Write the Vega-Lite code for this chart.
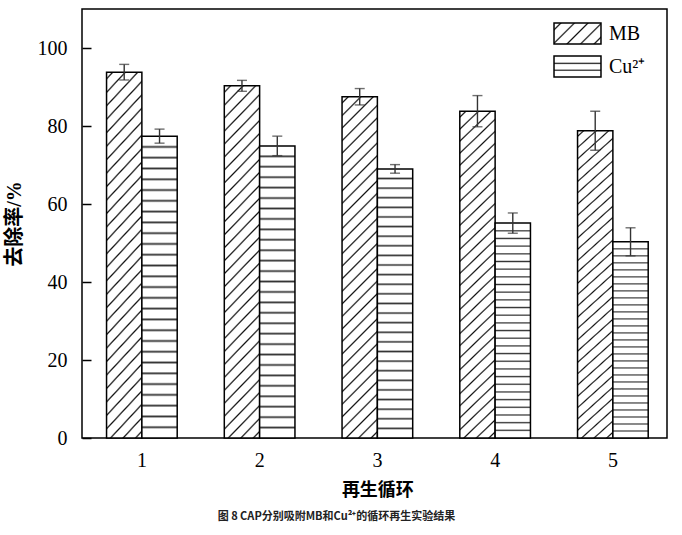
{
  "$schema": "https://vega.github.io/schema/vega-lite/v6.json",
  "width": 585,
  "height": 429,
  "autosize": "none",
  "padding": {"left": 82, "top": 9, "right": 15, "bottom": 97},
  "background": "white",
  "config": {
    "view": {"stroke": "black", "strokeWidth": 1.5},
    "font": "Liberation Serif"
  },
  "title": {
    "text": "图 8 CAP分别吸附MB和Cu²⁺的循环再生实验结果",
    "orient": "bottom",
    "anchor": "middle",
    "dx": -38,
    "offset": 12,
    "font": "Noto Sans CJK SC",
    "fontSize": 11,
    "fontWeight": "bold",
    "color": "#222"
  },
  "data": {
    "values": [
      {"cycle": 1, "series": "MB", "value": 93.8, "err": 2.0},
      {"cycle": 1, "series": "Cu²⁺", "value": 77.4, "err": 1.8},
      {"cycle": 2, "series": "MB", "value": 90.3, "err": 1.4},
      {"cycle": 2, "series": "Cu²⁺", "value": 74.9, "err": 2.5},
      {"cycle": 3, "series": "MB", "value": 87.5, "err": 2.1},
      {"cycle": 3, "series": "Cu²⁺", "value": 69.0, "err": 1.1},
      {"cycle": 4, "series": "MB", "value": 83.8, "err": 4.0},
      {"cycle": 4, "series": "Cu²⁺", "value": 55.1, "err": 2.6},
      {"cycle": 5, "series": "MB", "value": 78.8, "err": 5.0},
      {"cycle": 5, "series": "Cu²⁺", "value": 50.3, "err": 3.6}
    ]
  },
  "transform": [
    {"calculate": "datum.value - datum.err", "as": "lo"},
    {"calculate": "datum.value + datum.err", "as": "hi"}
  ],
  "encoding": {
    "x": {
      "field": "cycle",
      "type": "ordinal",
      "title": "再生循环",
      "scale": {"range": [1, 589.75], "paddingInner": 0.4, "paddingOuter": 0.2},
      "axis": {
        "domain": false,
        "ticks": false,
        "labelAngle": 0,
        "labelFont": "Liberation Serif",
        "labelFontSize": 20,
        "labelColor": "black",
        "labelPadding": 12,
        "titleFont": "Liberation Serif, Noto Sans CJK SC",
        "titleFontSize": 18,
        "titleFontWeight": "bold",
        "titleColor": "black",
        "titlePadding": 11
      }
    },
    "xOffset": {
      "field": "series",
      "type": "nominal",
      "sort": ["MB", "Cu²⁺"],
      "scale": {"paddingInner": 0, "paddingOuter": 0}
    }
  },
  "layer": [
    {
      "transform": [{"filter": "datum.series === 'MB'"}],
      "mark": {
        "type": "bar",
        "stroke": "black",
        "strokeWidth": 1.5,
        "fill": {
          "gradient": "linear", "x1": 0, "y1": 0, "x2": 0.1134, "y2": 1.092,
          "stops": [
            {"offset": 0.0122, "color": "#fff"}, {"offset": 0.0167, "color": "#111"}, {"offset": 0.0212, "color": "#fff"},
            {"offset": 0.0455, "color": "#fff"}, {"offset": 0.05, "color": "#111"}, {"offset": 0.0545, "color": "#fff"},
            {"offset": 0.0788, "color": "#fff"}, {"offset": 0.0833, "color": "#111"}, {"offset": 0.0878, "color": "#fff"},
            {"offset": 0.1122, "color": "#fff"}, {"offset": 0.1167, "color": "#111"}, {"offset": 0.1212, "color": "#fff"},
            {"offset": 0.1455, "color": "#fff"}, {"offset": 0.15, "color": "#111"}, {"offset": 0.1545, "color": "#fff"},
            {"offset": 0.1788, "color": "#fff"}, {"offset": 0.1833, "color": "#111"}, {"offset": 0.1878, "color": "#fff"},
            {"offset": 0.2122, "color": "#fff"}, {"offset": 0.2167, "color": "#111"}, {"offset": 0.2212, "color": "#fff"},
            {"offset": 0.2455, "color": "#fff"}, {"offset": 0.25, "color": "#111"}, {"offset": 0.2545, "color": "#fff"},
            {"offset": 0.2788, "color": "#fff"}, {"offset": 0.2833, "color": "#111"}, {"offset": 0.2878, "color": "#fff"},
            {"offset": 0.3122, "color": "#fff"}, {"offset": 0.3167, "color": "#111"}, {"offset": 0.3212, "color": "#fff"},
            {"offset": 0.3455, "color": "#fff"}, {"offset": 0.35, "color": "#111"}, {"offset": 0.3545, "color": "#fff"},
            {"offset": 0.3788, "color": "#fff"}, {"offset": 0.3833, "color": "#111"}, {"offset": 0.3878, "color": "#fff"},
            {"offset": 0.4122, "color": "#fff"}, {"offset": 0.4167, "color": "#111"}, {"offset": 0.4212, "color": "#fff"},
            {"offset": 0.4455, "color": "#fff"}, {"offset": 0.45, "color": "#111"}, {"offset": 0.4545, "color": "#fff"},
            {"offset": 0.4788, "color": "#fff"}, {"offset": 0.4833, "color": "#111"}, {"offset": 0.4878, "color": "#fff"},
            {"offset": 0.5122, "color": "#fff"}, {"offset": 0.5167, "color": "#111"}, {"offset": 0.5212, "color": "#fff"},
            {"offset": 0.5455, "color": "#fff"}, {"offset": 0.55, "color": "#111"}, {"offset": 0.5545, "color": "#fff"},
            {"offset": 0.5788, "color": "#fff"}, {"offset": 0.5833, "color": "#111"}, {"offset": 0.5878, "color": "#fff"},
            {"offset": 0.6122, "color": "#fff"}, {"offset": 0.6167, "color": "#111"}, {"offset": 0.6212, "color": "#fff"},
            {"offset": 0.6455, "color": "#fff"}, {"offset": 0.65, "color": "#111"}, {"offset": 0.6545, "color": "#fff"},
            {"offset": 0.6788, "color": "#fff"}, {"offset": 0.6833, "color": "#111"}, {"offset": 0.6878, "color": "#fff"},
            {"offset": 0.7122, "color": "#fff"}, {"offset": 0.7167, "color": "#111"}, {"offset": 0.7212, "color": "#fff"},
            {"offset": 0.7455, "color": "#fff"}, {"offset": 0.75, "color": "#111"}, {"offset": 0.7545, "color": "#fff"},
            {"offset": 0.7788, "color": "#fff"}, {"offset": 0.7833, "color": "#111"}, {"offset": 0.7878, "color": "#fff"},
            {"offset": 0.8122, "color": "#fff"}, {"offset": 0.8167, "color": "#111"}, {"offset": 0.8212, "color": "#fff"},
            {"offset": 0.8455, "color": "#fff"}, {"offset": 0.85, "color": "#111"}, {"offset": 0.8545, "color": "#fff"},
            {"offset": 0.8788, "color": "#fff"}, {"offset": 0.8833, "color": "#111"}, {"offset": 0.8878, "color": "#fff"},
            {"offset": 0.9122, "color": "#fff"}, {"offset": 0.9167, "color": "#111"}, {"offset": 0.9212, "color": "#fff"},
            {"offset": 0.9455, "color": "#fff"}, {"offset": 0.95, "color": "#111"}, {"offset": 0.9545, "color": "#fff"},
            {"offset": 0.9788, "color": "#fff"}, {"offset": 0.9833, "color": "#111"}, {"offset": 0.9878, "color": "#fff"}
          ]
        }
      },
      "encoding": {
        "y": {
          "field": "value",
          "type": "quantitative",
          "title": "去除率/%",
          "scale": {"domain": [0, 110], "nice": false},
          "axis": {
            "values": [0, 20, 40, 60, 80, 100],
            "domain": false,
            "grid": false,
            "tickSize": -9,
            "tickColor": "black",
            "tickWidth": 1.5,
            "labelFont": "Liberation Serif",
            "labelFontSize": 20,
            "labelColor": "black",
            "labelPadding": 24,
            "titleFont": "Liberation Serif, Noto Sans CJK SC",
            "titleFontSize": 20,
            "titleFontWeight": "bold",
            "titleColor": "black",
            "titlePadding": 13
          }
        }
      }
    },
    {
      "transform": [{"filter": "datum.series !== 'MB'"}],
      "mark": {
        "type": "bar",
        "stroke": "black",
        "strokeWidth": 1.5,
        "fill": {
          "gradient": "linear", "x1": 0, "y1": 0, "x2": 0, "y2": 1,
          "stops": [
            {"offset": 0.0297, "color": "#fff"}, {"offset": 0.0357, "color": "#333"}, {"offset": 0.0417, "color": "#fff"},
            {"offset": 0.0654, "color": "#fff"}, {"offset": 0.0714, "color": "#333"}, {"offset": 0.0774, "color": "#fff"},
            {"offset": 0.1011, "color": "#fff"}, {"offset": 0.1071, "color": "#333"}, {"offset": 0.1131, "color": "#fff"},
            {"offset": 0.1369, "color": "#fff"}, {"offset": 0.1429, "color": "#333"}, {"offset": 0.1489, "color": "#fff"},
            {"offset": 0.1726, "color": "#fff"}, {"offset": 0.1786, "color": "#333"}, {"offset": 0.1846, "color": "#fff"},
            {"offset": 0.2083, "color": "#fff"}, {"offset": 0.2143, "color": "#333"}, {"offset": 0.2203, "color": "#fff"},
            {"offset": 0.244, "color": "#fff"}, {"offset": 0.25, "color": "#333"}, {"offset": 0.256, "color": "#fff"},
            {"offset": 0.2797, "color": "#fff"}, {"offset": 0.2857, "color": "#333"}, {"offset": 0.2917, "color": "#fff"},
            {"offset": 0.3154, "color": "#fff"}, {"offset": 0.3214, "color": "#333"}, {"offset": 0.3274, "color": "#fff"},
            {"offset": 0.3511, "color": "#fff"}, {"offset": 0.3571, "color": "#333"}, {"offset": 0.3631, "color": "#fff"},
            {"offset": 0.3869, "color": "#fff"}, {"offset": 0.3929, "color": "#333"}, {"offset": 0.3989, "color": "#fff"},
            {"offset": 0.4226, "color": "#fff"}, {"offset": 0.4286, "color": "#333"}, {"offset": 0.4346, "color": "#fff"},
            {"offset": 0.4583, "color": "#fff"}, {"offset": 0.4643, "color": "#333"}, {"offset": 0.4703, "color": "#fff"},
            {"offset": 0.494, "color": "#fff"}, {"offset": 0.5, "color": "#333"}, {"offset": 0.506, "color": "#fff"},
            {"offset": 0.5297, "color": "#fff"}, {"offset": 0.5357, "color": "#333"}, {"offset": 0.5417, "color": "#fff"},
            {"offset": 0.5654, "color": "#fff"}, {"offset": 0.5714, "color": "#333"}, {"offset": 0.5774, "color": "#fff"},
            {"offset": 0.6011, "color": "#fff"}, {"offset": 0.6071, "color": "#333"}, {"offset": 0.6131, "color": "#fff"},
            {"offset": 0.6369, "color": "#fff"}, {"offset": 0.6429, "color": "#333"}, {"offset": 0.6489, "color": "#fff"},
            {"offset": 0.6726, "color": "#fff"}, {"offset": 0.6786, "color": "#333"}, {"offset": 0.6846, "color": "#fff"},
            {"offset": 0.7083, "color": "#fff"}, {"offset": 0.7143, "color": "#333"}, {"offset": 0.7203, "color": "#fff"},
            {"offset": 0.744, "color": "#fff"}, {"offset": 0.75, "color": "#333"}, {"offset": 0.756, "color": "#fff"},
            {"offset": 0.7797, "color": "#fff"}, {"offset": 0.7857, "color": "#333"}, {"offset": 0.7917, "color": "#fff"},
            {"offset": 0.8154, "color": "#fff"}, {"offset": 0.8214, "color": "#333"}, {"offset": 0.8274, "color": "#fff"},
            {"offset": 0.8511, "color": "#fff"}, {"offset": 0.8571, "color": "#333"}, {"offset": 0.8631, "color": "#fff"},
            {"offset": 0.8869, "color": "#fff"}, {"offset": 0.8929, "color": "#333"}, {"offset": 0.8989, "color": "#fff"},
            {"offset": 0.9226, "color": "#fff"}, {"offset": 0.9286, "color": "#333"}, {"offset": 0.9346, "color": "#fff"},
            {"offset": 0.9583, "color": "#fff"}, {"offset": 0.9643, "color": "#333"}, {"offset": 0.9703, "color": "#fff"}
          ]
        }
      },
      "encoding": {
        "y": {"field": "value", "type": "quantitative"}
      }
    },
    {
      "transform": [{"filter": "false"}],
      "mark": {"type": "bar", "stroke": "black", "strokeWidth": 1.5},
      "encoding": {
        "y": {"field": "value", "type": "quantitative"},
        "fill": {
          "field": "series",
          "type": "nominal",
          "scale": {
            "domain": ["MB", "Cu²⁺"],
            "range": [
              {"expr": "{gradient: 'linear', x1: 0, y1: 0, x2: 1.206, y2: 0.539, stops: [{offset: 0.075, color: '#fff'}, {offset: 0.1, color: '#111'}, {offset: 0.125, color: '#fff'}, {offset: 0.275, color: '#fff'}, {offset: 0.3, color: '#111'}, {offset: 0.325, color: '#fff'}, {offset: 0.475, color: '#fff'}, {offset: 0.5, color: '#111'}, {offset: 0.525, color: '#fff'}, {offset: 0.675, color: '#fff'}, {offset: 0.7, color: '#111'}, {offset: 0.725, color: '#fff'}, {offset: 0.875, color: '#fff'}, {offset: 0.9, color: '#111'}, {offset: 0.925, color: '#fff'}]}"},
              {"expr": "{gradient: 'linear', x1: 0, y1: 0, x2: 0, y2: 1, stops: [{offset: 0.29, color: '#fff'}, {offset: 0.35, color: '#222'}, {offset: 0.41, color: '#fff'}, {offset: 0.62, color: '#fff'}, {offset: 0.68, color: '#222'}, {offset: 0.74, color: '#fff'}]}"}
            ]
          },
          "legend": {
            "title": null,
            "orient": "none",
            "legendX": 481.5,
            "legendY": 10.5,
            "symbolType": "M-1.8,-0.8L1.8,-0.8L1.8,0.8L-1.8,0.8Z",
            "symbolSize": 681,
            "symbolOpacity": 1,
            "symbolStrokeColor": "black",
            "symbolStrokeWidth": 1.5,
            "labelFont": "Liberation Serif",
            "labelFontSize": 20,
            "labelColor": "black",
            "labelOffset": 17.4,
            "rowPadding": 5
          }
        }
      }
    },
    {
      "mark": {"type": "rule", "color": "#333", "strokeWidth": 1.4},
      "encoding": {
        "y": {"field": "lo", "type": "quantitative"},
        "y2": {"field": "hi"}
      }
    },
    {
      "mark": {"type": "tick", "color": "#333", "thickness": 1.4, "size": 10},
      "encoding": {"y": {"field": "lo", "type": "quantitative"}}
    },
    {
      "mark": {"type": "tick", "color": "#333", "thickness": 1.4, "size": 10},
      "encoding": {"y": {"field": "hi", "type": "quantitative"}}
    }
  ]
}
